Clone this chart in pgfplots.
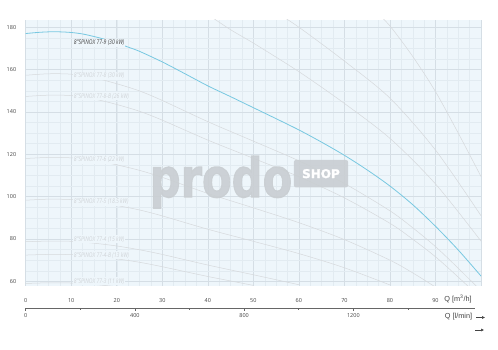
\documentclass[border=0pt]{standalone}
\usepackage{pgfplots}
\pgfplotsset{compat=1.18}
\usetikzlibrary{arrows.meta}
\usepackage{fontspec}
\setmainfont{Open Sans}
\newfontfamily\qfont{Liberation Sans}
\newfontfamily\wmfont{DejaVu Sans}[BoldFeatures={FakeBold=2}]
\definecolor{bgblue}{HTML}{EEF6FB}
\definecolor{gridmaj}{HTML}{D5DEE5}
\definecolor{gridmin}{HTML}{E2EBF1}
\definecolor{maincurve}{HTML}{78C8E1}
\definecolor{faint}{HTML}{D6D9DC}
\definecolor{faintlbl}{HTML}{CFD3D7}
\definecolor{ticktext}{HTML}{444444}
\definecolor{axisgray}{HTML}{666666}
\definecolor{wm}{HTML}{C9CED2}
\tikzset{
  lbl/.style={font=\itshape\fontsize{6.5}{7}\selectfont, xscale=0.78, anchor=west, inner sep=1pt, fill=bgblue},
  fc/.style={draw=faint, line width=0.5pt, smooth},
}
\begin{document}
\begin{tikzpicture}
\useasboundingbox (0,0) rectangle (498pt,350pt);
\begin{axis}[
  at={(25.7pt,64pt)}, anchor=south west,
  scale only axis, width=455.3pt, height=266pt,
  xmin=0, xmax=100, ymin=57.8, ymax=183.4,
  axis line style={draw=none},
  axis background/.style={fill=bgblue},
  xtick={0,10,20,30,40,50,60,70,80,90,100},
  xticklabels={0,10,20,30,40,50,60,70,80,90,{}},
  ytick={60,80,100,120,140,160,180},
  minor xtick={0,2.5,...,100},
  minor ytick={60,65,...,180},
  grid=both,
  major grid style={draw=gridmaj, line width=0.6pt},
  minor grid style={draw=gridmin, line width=0.4pt},
  major tick length=0pt, minor tick length=0pt,
  ticklabel style={font=\fontsize{5.5}{6}\selectfont, text=ticktext},
  xticklabel style={yshift=-9pt},
  yticklabel style={xshift=-6pt},
  /pgf/number format/assume math mode=true,
  clip=true,
]
% faint curves (other models)
\addplot[fc, no marks] coordinates {(0,157.3)(5,158.0)(10,157.8)(15,156.1)(20,153.3)(25,149.9)(30,145.4)(40,135.4)(50,126.2)(60,116.9)(70,106.2)(80,93.3)(85,85.3)(90,76.4)(95,66.2)(100,55.5)};
\addplot[fc, no marks] coordinates {(0,147.3)(5,147.9)(10,147.7)(15,146.1)(20,143.5)(25,140.3)(30,136.1)(40,126.7)(50,118.1)(60,109.4)(70,99.4)(80,87.4)(85,79.9)(90,71.6)(95,62.0)(100,51.9)};
\addplot[fc, no marks] coordinates {(0,118.0)(5,118.5)(10,118.3)(15,117.1)(20,115.0)(25,112.4)(30,109.1)(40,101.5)(50,94.7)(60,87.7)(70,79.7)(80,70.0)(85,64.0)(90,57.3)};
\addplot[fc, no marks] coordinates {(0,98.3)(5,98.8)(10,98.6)(15,97.6)(20,95.8)(25,93.7)(30,90.9)(40,84.6)(50,78.9)(60,73.1)(70,66.4)(80,58.3)};
\addplot[fc, no marks] coordinates {(0,78.7)(5,79.0)(10,78.9)(15,78.0)(20,76.7)(25,74.9)(30,72.7)(40,67.7)(50,63.1)(60,58.4)};
\addplot[fc, no marks] coordinates {(0,72.4)(5,72.7)(10,72.6)(15,71.8)(20,70.6)(25,69.0)(30,66.9)(40,62.3)(50,58.1)};
\addplot[fc, no marks] coordinates {(0,59.0)(5,59.3)(10,59.2)(15,58.5)(20,57.5)};
\addplot[fc, no marks] coordinates {(40,186.0)(45,178.8)(50,172.5)(60,159.0)(70,144.0)(80,127.5)(90,106.0)(100,79.0)};
\addplot[fc, no marks] coordinates {(55,187.0)(60,180.0)(70,164.0)(80,146.5)(90,122.0)(100,91.0)};
\addplot[fc, no marks] coordinates {(77,187.0)(80,180.6)(85,166.2)(90,149.6)(95,130.0)(100,109.5)};
% watermark
\node[text=wm, opacity=0.9, font=\wmfont\bfseries\fontsize{54}{54}\selectfont, xscale=0.8, anchor=base] at (axis cs:42.9,99.8) {prodo};
\fill[wm, opacity=0.9, rounded corners=2pt] (axis cs:58.9,104.4) rectangle (axis cs:70.8,117.3);
\node[text=white, font=\wmfont\bfseries\fontsize{12}{12}\selectfont] at (axis cs:64.85,110.85) {SHOP};
% main curve
\addplot[draw=maincurve, line width=0.8pt, smooth, no marks] coordinates {
(0,177.0)(2.5,177.5)(5,177.8)(7.5,177.8)(10,177.5)(12.5,176.8)(15,175.6)(17.5,174.2)(20,172.5)(22.5,170.6)(25,168.6)(30,163.6)(35,158.0)(40,152.3)(45,147.2)(50,142.0)(55,136.8)(60,131.5)(65,125.7)(70,119.5)(75,112.6)(80,105.0)(85,96.2)(90,86.0)(95,74.8)(100,62.5)};
% labels
\node[lbl, text=faintlbl] at (axis cs:10.4,157.0) {8"SPINOX 77-8 (30 kW)};
\node[lbl, text=faintlbl] at (axis cs:10.4,147.3) {8"SPINOX 77-8-B (26 kW)};
\node[lbl, text=faintlbl] at (axis cs:10.4,117.3) {8"SPINOX 77-6 (22 kW)};
\node[lbl, text=faintlbl] at (axis cs:10.4,97.5) {8"SPINOX 77-5 (18.5 kW)};
\node[lbl, text=faintlbl] at (axis cs:10.4,79.8) {8"SPINOX 77-4 (15 kW)};
\node[lbl, text=faintlbl] at (axis cs:10.4,72.4) {8"SPINOX 77-4-B (13 kW)};
\node[lbl, text=faintlbl] at (axis cs:10.4,60.0) {8"SPINOX 77-3 (11 kW)};
\node[lbl, text=ticktext] at (axis cs:10.4,172.6) {8"SPINOX 77-9 (30 kW)};
\end{axis}
\begin{axis}[
  at={(25.7pt,42pt)}, anchor=south west,
  scale only axis, width=449.7pt, height=10pt,
  xmin=0, xmax=1647, ymin=0, ymax=1,
  axis x line*=bottom, axis y line=none,
  x axis line style={draw=axisgray, line width=0.9pt},
  xtick={0,400,800,1200}, minor xtick={200,600,1000,1400},
  tick align=outside, major tick length=3pt, minor tick length=2pt,
  tick style={draw=axisgray, line width=0.5pt},
  ytick=\empty,
  ticklabel style={font=\fontsize{5.5}{6}\selectfont, text=ticktext},
  xticklabel style={yshift=1pt, /pgf/number format/set thousands separator={}},
  /pgf/number format/assume math mode=true,
]
\addplot[draw=none] coordinates {(0,0)(1647,1)};
\end{axis}
\node[font=\qfont\fontsize{7.3}{8}\selectfont, text=ticktext] at (458pt,51pt) {Q [m\textsuperscript{3}/h]};
\node[font=\qfont\fontsize{7.3}{8}\selectfont, text=ticktext] at (458.5pt,33.3pt) {Q [l/min]};
\draw[ticktext, line width=0.5pt, -{Latex[length=3pt,width=3pt]}] (476pt,32.5pt) -- (485pt,32.5pt);
\draw[ticktext, line width=0.5pt, -{Latex[length=3pt,width=3pt]}] (475pt,20pt) -- (484pt,20pt);
\end{tikzpicture}
\end{document}
